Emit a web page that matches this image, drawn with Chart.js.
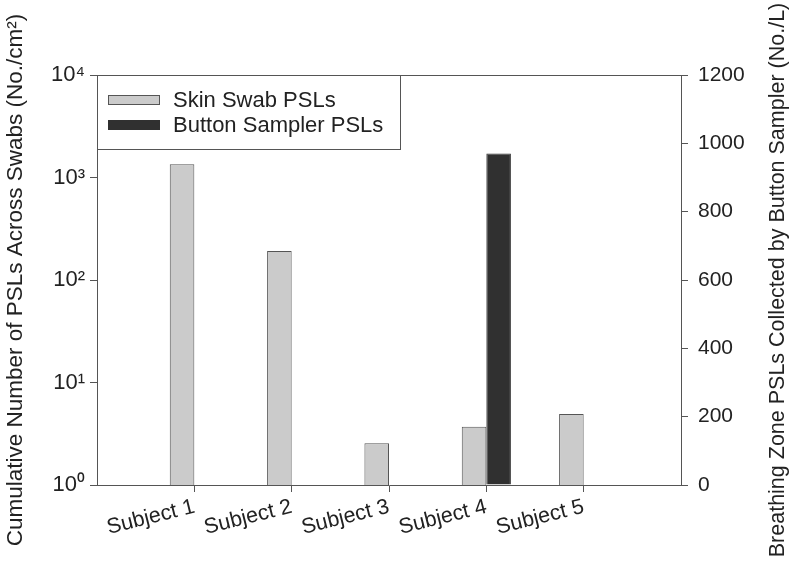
<!DOCTYPE html>
<html>
<head>
<meta charset="utf-8">
<script src="https://cdn.jsdelivr.net/npm/chart.js@4"></script>
<style>
  html, body { margin: 0; padding: 0; background: #fff; }
</style>
</head>
<body>
<canvas id="psl" width="792" height="561"></canvas>
<script>
// data
const subjects = ['Subject 1', 'Subject 2', 'Subject 3', 'Subject 4', 'Subject 5'];
const skinSwab = [1350, 192, 2.55, 3.7, 4.93];           // No./cm2, log axis
const buttonSampler = [null, null, null, 970, null];       // No./L, right axis
const logTicks = [1, 10, 100, 1000, 10000];
const supers = ['\u2070', '\u00b9', '\u00b2', '\u00b3', '\u2074'];
const rightTitle = 'Breathing Zone PSLs Collected by Button Sampler (No./L)';

const FONT = "'Liberation Sans', Arial, sans-serif";
const TEXT = '#222';
const AXIS = '#555';

// empty slot at each end so the subjects sit on the tick marks
const labels = [''].concat(subjects, ['']);
const skinData = [null].concat(skinSwab, [null]);
const buttonData = [null].concat(buttonSampler, [null]);

// framed legend, top border, right title read bottom-to-top
const framePlugin = {
    id: 'frame',
    afterDraw(chart) {
        const ctx = chart.ctx;
        const a = chart.chartArea;
        ctx.save();
        ctx.strokeStyle = AXIS;
        ctx.lineWidth = 1;
        ctx.beginPath();
        ctx.moveTo(a.left, a.top + 0.5);
        ctx.lineTo(a.right, a.top + 0.5);
        ctx.stroke();

        // legend box
        const bx = a.left, by = a.top, bw = 303, bh = 74;
        ctx.fillStyle = '#fff';
        ctx.fillRect(bx, by, bw, bh);
        ctx.strokeRect(bx + 0.5, by + 0.5, bw, bh);

        ctx.font = '22px ' + FONT;
        ctx.textBaseline = 'middle';
        chart.data.datasets.forEach((ds, i) => {
            const cy = by + 25 + i * 25;
            ctx.fillStyle = ds.backgroundColor;
            ctx.fillRect(bx + 11, cy - 5, 52, 10);
            ctx.strokeStyle = ds.borderColor;
            ctx.strokeRect(bx + 11.5, cy - 4.5, 51, 9);
            ctx.fillStyle = TEXT;
            ctx.fillText(ds.label, bx + 76, cy + 1);
        });

        // right axis title
        ctx.translate(778, (a.top + a.bottom) / 2);
        ctx.rotate(-Math.PI / 2);
        ctx.font = '21.5px ' + FONT;
        ctx.textAlign = 'center';
        ctx.fillStyle = TEXT;
        ctx.fillText(rightTitle, 0, 0);
        ctx.restore();
    }
};

const ctx = document.getElementById('psl').getContext('2d');
new Chart(ctx, {
    type: 'bar',
    data: {
        labels: labels,
        datasets: [{
            label: 'Skin Swab PSLs',
            data: skinData,
            yAxisID: 'y',
            backgroundColor: '#cbcbcb',
            borderColor: '#555',
            borderWidth: 1
        }, {
            label: 'Button Sampler PSLs',
            data: buttonData,
            yAxisID: 'y1',
            backgroundColor: '#303030',
            borderColor: '#303030',
            borderWidth: 1
        }]
    },
    options: {
        responsive: false,
        animation: false,
        layout: { padding: { top: 75, left: 0, right: 0, bottom: 0 } },
        categoryPercentage: 0.505,
        barPercentage: 1,
        plugins: {
            legend: { display: false },
            tooltip: { enabled: false }
        },
        scales: {
            x: {
                offset: false,
                border: { color: AXIS, width: 1 },
                grid: {
                    offset: false,
                    drawOnChartArea: false,
                    drawTicks: true,
                    tickLength: 7,
                    color: c => (c.index === 0 || c.index === labels.length - 1) ? 'rgba(0,0,0,0)' : AXIS
                },
                ticks: {
                    autoSkip: false,
                    minRotation: 14,
                    maxRotation: 14,
                    padding: 2,
                    color: TEXT,
                    font: { family: FONT, size: 21.5 }
                },
                afterFit: s => { s.height = 76; }
            },
            y: {
                type: 'logarithmic',
                position: 'left',
                min: 1,
                max: 10000,
                border: { color: AXIS, width: 1 },
                grid: { drawOnChartArea: false, drawTicks: true, tickLength: 7, color: AXIS },
                afterBuildTicks: s => { s.ticks = logTicks.map(v => ({ value: v })); },
                ticks: {
                    padding: 5,
                    color: TEXT,
                    font: { family: FONT, size: 22 },
                    callback: v => '10' + supers[logTicks.indexOf(v)]
                },
                title: {
                    display: true,
                    text: 'Cumulative Number of PSLs Across Swabs (No./cm\u00b2)',
                    color: TEXT,
                    font: { family: FONT, size: 22.5 },
                    padding: { top: 2, bottom: 0 }
                },
                afterFit: s => { s.width = 97; }
            },
            y1: {
                type: 'linear',
                position: 'right',
                min: 0,
                max: 1200,
                border: { color: AXIS, width: 1 },
                grid: { drawOnChartArea: false, drawTicks: true, tickLength: 7, color: AXIS },
                ticks: {
                    stepSize: 200,
                    padding: 10,
                    color: TEXT,
                    font: { family: FONT, size: 21 },
                    callback: v => String(v)
                },
                afterFit: s => { s.width = 111; }
            }
        }
    },
    plugins: [framePlugin]
});
</script>
</body>
</html>
